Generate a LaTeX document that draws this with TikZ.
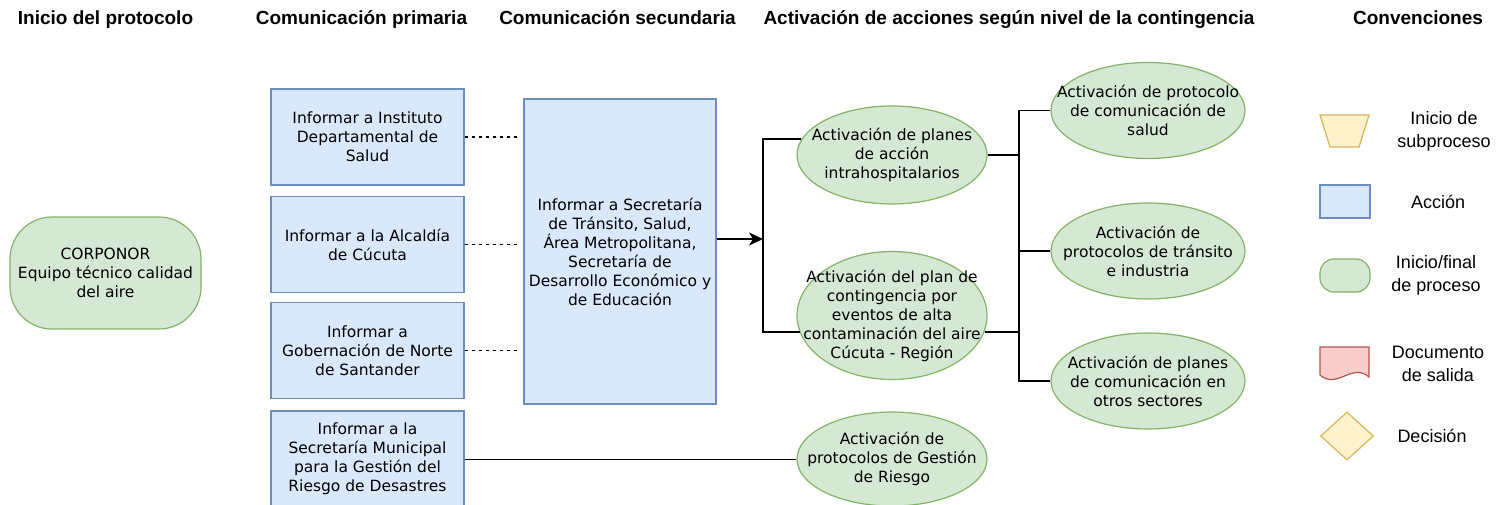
\documentclass[tikz,border=0pt]{standalone}
\usepackage{fontspec}
\setmainfont{Liberation Sans}
\newfontfamily\cajafont{DejaVu Sans}
\usepackage{tikz}
\usetikzlibrary{arrows.meta,%
                shapes.geometric}

\definecolor{azulfill}{HTML}{DAE8FC}
\definecolor{azulline}{HTML}{6C8EBF}
\definecolor{verdefill}{HTML}{D5E8D4}
\definecolor{verdeline}{HTML}{82B366}
\definecolor{amarfill}{HTML}{FFF2CC}
\definecolor{amarline}{HTML}{D6B656}
\definecolor{rojofill}{HTML}{F8CECC}
\definecolor{rojoline}{HTML}{B85450}

\begin{document}
\begin{tikzpicture}[x=1pt,y=-1pt]
  \tikzstyle{titulo}=[anchor=base,font=\fontsize{19}{22}\selectfont\bfseries]
  \tikzstyle{accion}=[rectangle,draw=azulline,fill=azulfill,line width=1.2pt,minimum width=193pt,minimum height=96pt,inner sep=0pt,align=center,font=\cajafont\fontsize{15.5}{19}\selectfont]
  \tikzstyle{inicio}=[rectangle,rounded corners=42pt,draw=verdeline,fill=verdefill,line width=1.2pt,minimum width=191pt,minimum height=112pt,inner sep=0pt,align=center,font=\cajafont\fontsize{15.5}{19}\selectfont]
  \tikzstyle{evento}=[ellipse,draw=verdeline,fill=verdefill,line width=1.2pt,inner sep=-60pt,minimum width=190pt,align=center,font=\cajafont\fontsize{15.5}{19}\selectfont]
  \tikzstyle{leyenda}=[align=center,font=\fontsize{18}{23}\selectfont]
  \tikzstyle{linea}=[line width=1.5pt]
  \tikzstyle{flecha}=[line width=1.5pt,-{Stealth[length=14pt,width=13pt,inset=4pt]}]
  \tikzstyle{punteada}=[line width=1.2pt,dash pattern=on 3.5pt off 3.5pt,shorten >=6pt]
  \useasboundingbox (0,0) rectangle (1497,504);
  \clip (0,0) rectangle (1497,504);
  % titulos
  \node[titulo] (T_1) at (105.5,24) {Inicio del protocolo};
  \node[titulo] (T_2) at (361.5,24) {Comunicación primaria};
  \node[titulo] (T_3) at (617.5,24) {Comunicación secundaria};
  \node[titulo] (T_4) at (1009,24) {Activación de acciones según nivel de la contingencia};
  \node[titulo] (T_5) at (1418,24) {Convenciones};
  % nodos
  \node[inicio] (C_1) at (105.5,273) {CORPONOR\\Equipo técnico calidad\\del aire};
  \node[accion] (B_1) at (367.5,137) {Informar a Instituto\\Departamental de\\Salud};
  \node[accion] (B_2) at (367.5,244.5) {Informar a la Alcaldía\\de Cúcuta};
  \node[accion] (B_3) at (367.5,350.5) {Informar a\\Gobernación de Norte\\de Santander};
  \node[accion] (B_4) at (367.5,459) {Informar a la\\Secretaría Municipal\\para la Gestión del\\Riesgo de Desastres};
  \node[accion,minimum width=192pt,minimum height=305pt] (B_5) at (620,251.5) {Informar a Secretaría\\de Tránsito, Salud,\\Área Metropolitana,\\Secretaría de\\Desarrollo Económico y\\de Educación};
  \node[evento,minimum height=98pt] (E_1) at (892,155) {Activación de planes\\de acción\\intrahospitalarios};
  \node[evento,minimum height=128pt] (E_2) at (892,315.5) {Activación del plan de\\contingencia por\\eventos de alta\\contaminación del aire\\Cúcuta - Región};
  \node[evento,minimum height=94pt] (E_6) at (892,459) {Activación de\\protocolos de Gestión\\de Riesgo};
  \node[evento,minimum width=194pt,minimum height=96pt] (E_3) at (1148,110.5) {Activación de protocolo\\de comunicación de\\salud};
  \node[evento,minimum width=194pt,minimum height=96pt] (E_4) at (1148,251) {Activación de\\protocolos de tránsito\\e industria};
  \node[evento,minimum width=194pt,minimum height=96pt] (E_5) at (1148,381) {Activación de planes\\de comunicación en\\otros sectores};
  \coordinate (J_1) at (763,239);
  \coordinate (J_2) at (1019,155);
  % conectores
  \foreach \n in {1,2,3}
    \draw[punteada] (B_\n.east) -- (B_\n.east -| B_5.west);
  \draw[flecha] (B_5.east |- J_1) -- (J_1);
  \draw[linea] (E_1.170) -| (J_1) |- (E_2.190);
  \draw[linea] (E_1.east) -- (J_2);
  \draw[linea] (E_2.-10) -| (J_2);
  \draw[linea] (E_3.west) -| (J_2) |- (E_5.west);
  \draw[linea] (E_4.west) -- (E_4.west -| J_2);
  \draw[line width=1pt] (B_4.east) -- (E_6.west);
  % convenciones
  \draw[draw=amarline,fill=amarfill,line width=1.2pt] (1320,115) -- (1369,115) -- (1359,147) -- (1330,147) -- cycle;
  \node[accion,minimum width=50pt,minimum height=33pt] (L_2) at (1345,201.5) {};
  \node[inicio,minimum width=50pt,minimum height=33pt,rounded corners=14pt] (L_3) at (1345,275.5) {};
  \draw[draw=rojoline,fill=rojofill,line width=1.2pt] (1320,347) -- (1369,347) -- (1369,377)
    .. controls (1352,362) and (1337,390) .. (1320,375) -- cycle;
  \node[diamond,draw=amarline,fill=amarfill,line width=1.2pt,aspect=1.1,minimum width=53pt,minimum height=48pt,inner sep=0pt] (L_5) at (1347,436) {};
  \node[leyenda] (N_1) at (1444,131) {Inicio de\\subproceso};
  \node[leyenda] (N_2) at (1438,202) {Acción};
  \node[leyenda] (N_3) at (1436,275) {Inicio/final\\de proceso};
  \node[leyenda] (N_4) at (1438,364) {Documento\\de salida};
  \node[leyenda] (N_5) at (1432,436) {Decisión};
\end{tikzpicture}
\end{document}
